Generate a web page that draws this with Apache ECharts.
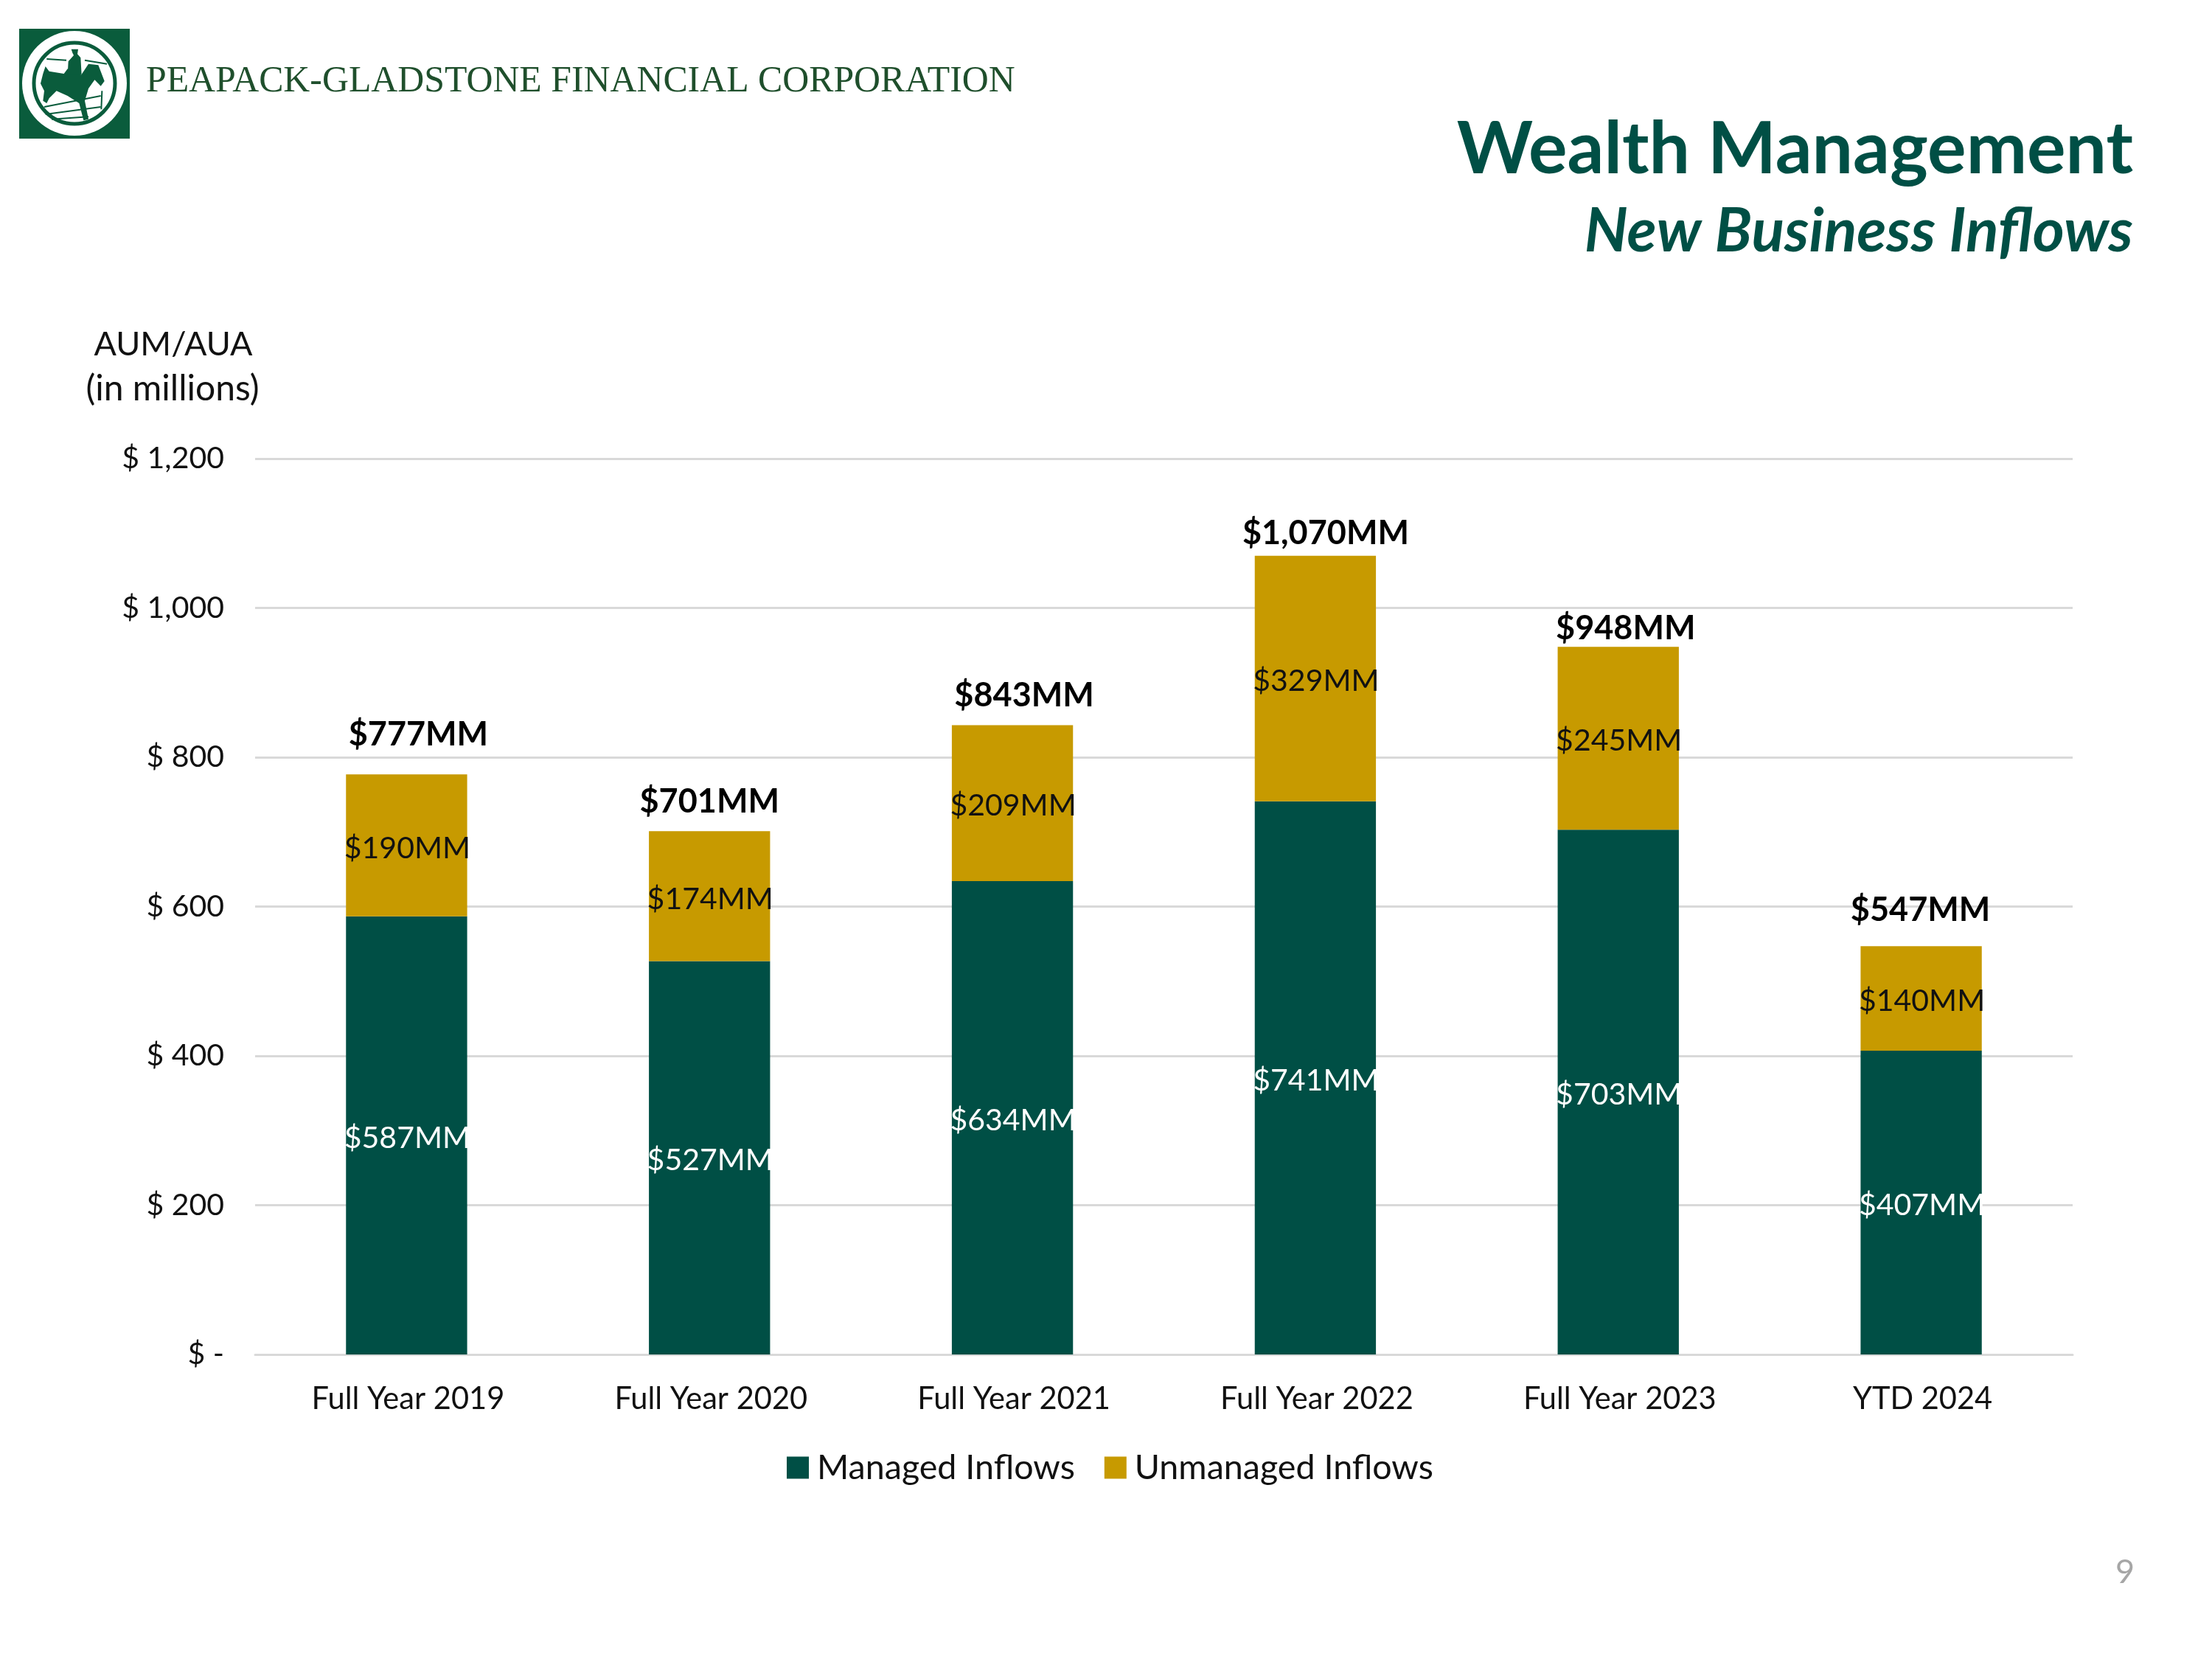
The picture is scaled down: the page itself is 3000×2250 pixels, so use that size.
<!DOCTYPE html>
<html>
<head>
<meta charset="utf-8">
<style>html,body{margin:0;padding:0;background:#fff}#chart{width:3000px;height:2250px}</style>
<script src="https://cdn.jsdelivr.net/npm/echarts@6/dist/echarts.min.js"></script>
</head>
<body>
<div id="chart"></div>
<script>
// Wealth Management new business inflows, in $ millions
const categories = ['Full Year 2019', 'Full Year 2020', 'Full Year 2021', 'Full Year 2022', 'Full Year 2023', 'YTD 2024'];
const managedInflows = [587, 527, 634, 741, 703, 407];
const unmanagedInflows = [190, 174, 209, 329, 245, 140];
const totalInflows = [777, 701, 843, 1070, 948, 547];

// Hand placement of the bold total captions, [dx, dy] in pixels
const totalNudges = [[16, -26], [0, -12], [16, -12], [14, -2], [10, 3], [-1, -21]];

const GREEN = '#004f45';
const GOLD = '#c79a00';
const LOGO_GREEN = '#0a5c3c';
const UI_FONT = 'Lato, Carlito, "Open Sans", sans-serif';
const money = v => '$' + v.toLocaleString('en-US') + 'MM';

// Emblem outlines are sketched on a 495-unit square placed over the logo tile
const emblem = pts => pts.map(([x, y]) => [20 + x / 3, 30 + y / 3]);
const horseOutline = [[125,180],[140,200],[200,210],[215,190],[270,215],[300,170],[340,175],[365,240],[350,260],[325,235],[300,270],[285,320],[300,395],[280,400],[262,330],[215,300],[170,280],[140,310],[130,330],[115,320],[120,280],[105,250],[115,210]];
const riderOutline = [[230,110],[258,110],[255,130],[268,145],[272,215],[215,215],[218,160],[240,135],[235,125]];
const fenceRails = [
  [[120,345],[350,300]], [[125,375],[350,345]], [[150,395],[300,385]],
  [[355,280],[352,355]], [[130,150],[210,155]], [[285,155],[375,170]]
];

const chart = echarts.init(document.getElementById('chart'), null, { renderer: 'canvas' });
chart.setOption({
  animation: false,
  backgroundColor: '#ffffff',
  textStyle: { fontFamily: UI_FONT },
  grid: { left: 346, right: 189, top: 622, height: 1215, containLabel: false },
  legend: {
    top: 1962, left: 1062, itemWidth: 30, itemHeight: 30, itemGap: 40,
    icon: 'rect',
    data: ['Managed Inflows', 'Unmanaged Inflows'],
    textStyle: { fontSize: 46.6, color: '#111', fontFamily: UI_FONT, padding: [0, 0, 0, 6] }
  },
  xAxis: {
    type: 'category', data: categories,
    axisTick: { show: false },
    axisLine: { lineStyle: { color: '#d9d9d9', width: 3 } },
    axisLabel: { fontSize: 41.6, color: '#111', margin: 40, padding: [0, 0, 0, 4], fontFamily: UI_FONT }
  },
  yAxis: {
    type: 'value', min: 0, max: 1200, interval: 200,
    axisLine: { show: false }, axisTick: { show: false },
    splitLine: { lineStyle: { color: '#d9d9d9', width: 3 } },
    axisLabel: {
      fontSize: 41, color: '#111', margin: 42, padding: [8, 0, 0, 0], fontFamily: UI_FONT,
      formatter: v => v === 0 ? '$ -' : '$ ' + v.toLocaleString('en-US')
    }
  },
  series: [
    {
      name: 'Managed Inflows', type: 'bar', stack: 'inflows', barCategoryGap: '60%',
      data: managedInflows, itemStyle: { color: GREEN },
      label: { show: true, position: 'inside', offset: [1, 4], color: '#fff', fontSize: 41, formatter: p => money(p.value) }
    },
    {
      name: 'Unmanaged Inflows', type: 'bar', stack: 'inflows',
      data: unmanagedInflows, itemStyle: { color: GOLD },
      label: { show: true, position: 'inside', offset: [1, 4], color: '#111', fontSize: 41, formatter: p => money(p.value) }
    },
    {
      // Invisible carrier for the total caption above each stack
      name: 'Total', type: 'line', symbol: 'circle', symbolSize: 1, silent: true, z: 5,
      lineStyle: { width: 0, color: 'transparent' },
      itemStyle: { color: 'transparent' },
      label: {
        show: true, position: 'top', fontSize: 45, fontWeight: 'bold', color: '#000',
        formatter: p => money(p.value)
      },
      data: totalInflows.map((v, i) => ({ value: v, label: { offset: totalNudges[i] } }))
    }
  ],
  graphic: [
    { type: 'rect', shape: { x: 26, y: 39, width: 150, height: 149 }, style: { fill: LOGO_GREEN } },
    { type: 'circle', shape: { cx: 101, cy: 113, r: 71 }, style: { fill: '#fff' } },
    { type: 'circle', shape: { cx: 101, cy: 113, r: 55 }, style: { fill: '#fff', stroke: LOGO_GREEN, lineWidth: 5 } },
    { type: 'polygon', shape: { points: emblem(horseOutline) }, style: { fill: LOGO_GREEN } },
    { type: 'polygon', shape: { points: emblem(riderOutline) }, style: { fill: LOGO_GREEN } },
    ...fenceRails.map(r => ({ type: 'polyline', shape: { points: emblem(r) }, style: { stroke: LOGO_GREEN, lineWidth: 2, fill: null } })),
    { type: 'text', style: { x: 198, y: 111, text: 'PEAPACK-GLADSTONE FINANCIAL CORPORATION', font: '49.8px "Liberation Serif", serif', fill: '#1f4f2c', verticalAlign: 'middle' } },
    { type: 'text', style: { x: 2893, y: 203, text: 'Wealth Management', font: 'bold 98.4px ' + UI_FONT, fill: GREEN, align: 'right', verticalAlign: 'middle' } },
    { type: 'text', style: { x: 2893, y: 314, text: 'New Business Inflows', font: 'italic bold 82.4px ' + UI_FONT, fill: GREEN, align: 'right', verticalAlign: 'middle' } },
    { type: 'text', style: { x: 235, y: 467, text: 'AUM/AUA', font: '45px ' + UI_FONT, fill: '#111', align: 'center', verticalAlign: 'middle' } },
    { type: 'text', style: { x: 234, y: 528, text: '(in millions)', font: '48px ' + UI_FONT, fill: '#111', align: 'center', verticalAlign: 'middle' } },
    { type: 'text', style: { x: 2895, y: 2132, text: '9', font: '45px ' + UI_FONT, fill: '#a6a6a6', align: 'right', verticalAlign: 'middle' } }
  ]
});
</script>
</body>
</html>
